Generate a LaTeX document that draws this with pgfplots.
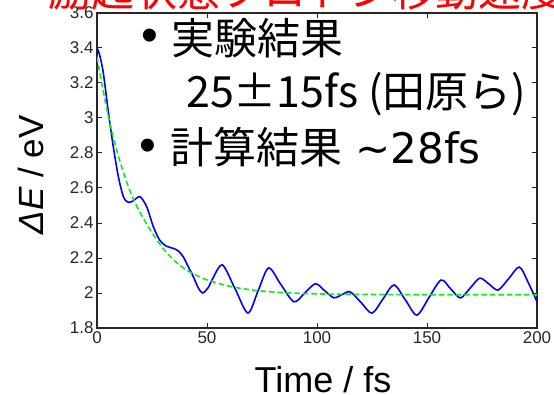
\documentclass[border=0pt]{standalone}
\usepackage{fontspec}
\setmainfont{Liberation Sans}
\newfontfamily\cjk{Noto Sans CJK JP}
\newfontfamily\dvs{DejaVu Sans}
\usepackage{pgfplots}
\pgfplotsset{compat=1.18}
\definecolor{axgray}{RGB}{38,38,38}
\definecolor{mgreen}{RGB}{20,235,20}
\definecolor{mblue}{RGB}{0,0,255}
\begin{document}
\begin{tikzpicture}[x=1pt,y=1pt]
\useasboundingbox (0,0) rectangle (554,394);
\begin{axis}[
  at={(97pt,66pt)}, anchor=south west,
  scale only axis, width=440pt, height=315pt,
  xmin=0, xmax=200, ymin=1.8, ymax=3.6,
  xtick={0,50,100,150,200},
  ytick={1.8,2,2.2,2.4,2.6,2.8,3,3.2,3.4,3.6},
  tick align=inside, major tick length=5pt,
  axis line style={draw=axgray, line width=1.4pt},
  tick style={draw=axgray, line width=1pt},
  tick label style={font=\fontsize{17}{17}\selectfont, text=axgray},
  /pgf/number format/assume math mode=true,
]
\addplot[mblue, line width=1.6pt, smooth, tension=0.5] coordinates {
(0,3.40) (1.2,3.36) (2.9,3.255) (5.2,3.03) (7.4,2.836) (9.7,2.665) (12,2.55)
(14.2,2.518) (16.5,2.527) (19.5,2.55) (22.6,2.493) (25.6,2.379) (28.6,2.30)
(31.5,2.268) (34.7,2.255) (37,2.24) (39.2,2.207) (41.5,2.15) (43.8,2.093)
(46,2.03) (48,2.00) (50.5,2.03) (52.5,2.08) (57,2.16)
(62.8,2.023) (68.6,1.886) (73.3,2.015) (78,2.143) (83.5,2.05) (89.5,1.95)
(94.4,2.0) (99.3,2.053) (103.5,2.013) (107.6,1.973) (111.3,1.99) (115,2.007)
(120,1.946) (125,1.885) (130,1.966) (135,2.046) (140.2,1.96) (145.4,1.874)
(150.9,1.974) (156.4,2.074) (160.8,2.023) (165.2,1.972) (169.6,2.028)
(174,2.085) (178.2,2.051) (182.3,2.017) (187.2,2.083) (192,2.148)
(196,2.06) (200,1.95)
};
\addplot[mgreen, line width=1.6pt, dash pattern=on 5.5pt off 3pt, smooth] coordinates {
(0,3.35) (2.5,3.175) (5,3.02) (7.5,2.885) (10,2.77) (12.5,2.67) (15,2.583)
(17.5,2.51) (20,2.45) (25,2.345) (30,2.255) (35,2.187) (40,2.137) (45,2.102)
(50,2.075) (60,2.039) (70,2.018) (80,2.006) (90,1.999) (100,1.995)
(120,1.992) (150,1.99) (200,1.99)
};
\end{axis}
\node[anchor=base west, inner sep=0, text=red, font=\cjk\fontsize{43}{43}\selectfont] at (48,387) {励起状態プロトン移動速度};
\node[anchor=center, inner sep=0, font=\fontsize{48}{48}\selectfont] at (150,354) {•};
\node[anchor=base west, inner sep=0, font=\cjk\fontsize{43}{43}\selectfont] at (171,339) {実験結果};
\node[anchor=base west, inner sep=0, font=\cjk\fontsize{43}{43}\selectfont] at (186,286) {25±15fs (田原ら)};
\node[anchor=center, inner sep=0, font=\fontsize{48}{48}\selectfont] at (148,244) {•};
\node[anchor=base west, inner sep=0, font=\cjk\fontsize{43}{43}\selectfont] at (170,230) {計算結果{\dvs\fontsize{42}{42}\selectfont{} \textasciitilde28fs}};
\node[rotate=90, anchor=center, inner sep=0, font=\fontsize{35}{35}\selectfont] at (31,219) {{\itshape ΔE} / eV};
\node[anchor=base, inner sep=0, font=\fontsize{36}{36}\selectfont] at (323,2) {Time / fs};
\end{tikzpicture}
\end{document}
